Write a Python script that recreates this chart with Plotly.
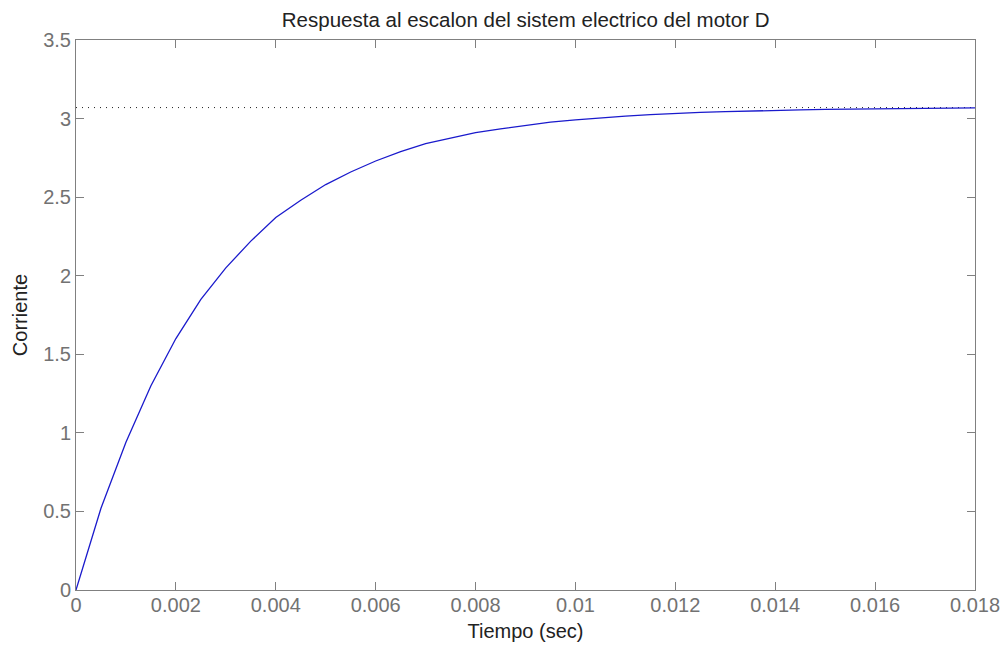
import plotly.graph_objects as go

# Step response samples
tiempo = [0.0, 0.0005, 0.001, 0.0015, 0.002, 0.0025, 0.003, 0.0035, 0.004, 0.0045,
          0.005, 0.0055, 0.006, 0.0065, 0.007, 0.0075, 0.008, 0.0085, 0.009, 0.0095,
          0.010, 0.0105, 0.011, 0.0115, 0.012, 0.0125, 0.013, 0.0135, 0.014, 0.0145,
          0.015, 0.0155, 0.016, 0.0165, 0.017, 0.0175, 0.018]
corriente = [0.0, 0.52, 0.94, 1.30, 1.60, 1.85, 2.05, 2.22, 2.37, 2.48,
             2.58, 2.66, 2.73, 2.79, 2.84, 2.875, 2.91, 2.935, 2.958, 2.977,
             2.992, 3.005, 3.016, 3.025, 3.033, 3.039, 3.044, 3.049, 3.052, 3.055,
             3.058, 3.06, 3.061, 3.063, 3.064, 3.066, 3.068]
valor_final = 3.07
x_range = [0, 0.018]
y_range = [0, 3.5]
x_ticks = [0, 0.002, 0.004, 0.006, 0.008, 0.01, 0.012, 0.014, 0.016, 0.018]
x_labels = ["0", "0.002", "0.004", "0.006", "0.008", "0.01", "0.012", "0.014", "0.016", "0.018"]
y_ticks = [0, 0.5, 1, 1.5, 2, 2.5, 3, 3.5]
y_labels = ["0", "0.5", "1", "1.5", "2", "2.5", "3", "3.5"]

FONT = "Liberation Sans, Arial, sans-serif"

fig = go.Figure()
fig.add_trace(go.Scatter(x=x_range, y=[valor_final, valor_final], mode="lines",
                         line=dict(color="#222222", width=1, dash="1px,5px"),
                         hoverinfo="skip", showlegend=False))
fig.add_trace(go.Scatter(x=tiempo, y=corriente, mode="lines",
                         line=dict(color="#1a1acc", width=1.3), showlegend=False))

axis_common = dict(showgrid=False, zeroline=False, showline=True, linecolor="#808080",
                   linewidth=1, mirror="allticks", ticks="inside", ticklen=8,
                   automargin=False,
                   tickcolor="#808080", tickfont=dict(family=FONT, size=20, color="#727272"))

fig.update_xaxes(range=[x_range[0], x_range[1] * (1 + 1e-9)], tickvals=x_ticks, ticktext=x_labels,
                 ticklabelstandoff=-3,
                 title=dict(text="Tiempo (sec)", font=dict(family=FONT, size=20, color="#222222"),
                            standoff=8),
                 **axis_common)
fig.update_yaxes(range=y_range, tickvals=y_ticks, ticktext=y_labels,
                 title=dict(text="Corriente", font=dict(family=FONT, size=20, color="#222222"),
                            standoff=10),
                 **axis_common)

fig.update_layout(
    width=1006, height=652,
    margin=dict(l=76, r=31, t=40, b=62),
    paper_bgcolor="white", plot_bgcolor="white",
    title=dict(text="Respuesta al escalon del sistem electrico del motor D",
               font=dict(family=FONT, size=20.5, color="#222222"),
               x=0.5225, xanchor="center", yref="container", y=1 - 13 / 652, yanchor="top"),
)

fig.write_html("out.html",
               config={"displayModeBar": False},
               post_script="document.body.style.margin='0';document.body.style.overflow='hidden';")
